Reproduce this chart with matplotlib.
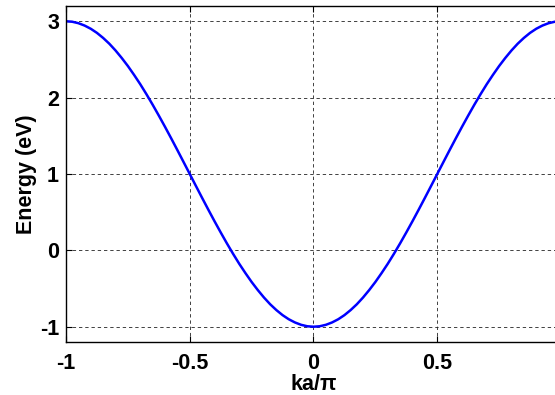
import numpy as np
import matplotlib.pyplot as plt

plt.rcParams['font.family'] = ['Liberation Sans', 'DejaVu Sans']
plt.rcParams['font.weight'] = 'bold'

# ka/pi sample points and energies
ka = [-1.0, -0.975, -0.95, -0.925, -0.9, -0.875, -0.85, -0.825, -0.8, -0.775,
      -0.75, -0.725, -0.7, -0.675, -0.65, -0.625, -0.6, -0.575, -0.55, -0.525,
      -0.5, -0.475, -0.45, -0.425, -0.4, -0.375, -0.35, -0.325, -0.3, -0.275,
      -0.25, -0.225, -0.2, -0.175, -0.15, -0.125, -0.1, -0.075, -0.05, -0.025,
      0.0, 0.025, 0.05, 0.075, 0.1, 0.125, 0.15, 0.175, 0.2, 0.225,
      0.25, 0.275, 0.3, 0.325, 0.35, 0.375, 0.4, 0.425, 0.45, 0.475,
      0.5, 0.525, 0.55, 0.575, 0.6, 0.625, 0.65, 0.675, 0.7, 0.725,
      0.75, 0.775, 0.8, 0.825, 0.85, 0.875, 0.9, 0.925, 0.95, 0.975, 1.0]
energy = [3.0, 2.994, 2.975, 2.944, 2.902, 2.848, 2.782, 2.706, 2.618, 2.520,
          2.414, 2.298, 2.176, 2.045, 1.908, 1.765, 1.618, 1.467, 1.313, 1.157,
          1.0, 0.843, 0.687, 0.533, 0.382, 0.235, 0.092, -0.045, -0.176, -0.298,
          -0.414, -0.520, -0.618, -0.706, -0.782, -0.848, -0.902, -0.944, -0.975, -0.994,
          -1.0, -0.994, -0.975, -0.944, -0.902, -0.848, -0.782, -0.706, -0.618, -0.520,
          -0.414, -0.298, -0.176, -0.045, 0.092, 0.235, 0.382, 0.533, 0.687, 0.843,
          1.0, 1.157, 1.313, 1.467, 1.618, 1.765, 1.908, 2.045, 2.176, 2.298,
          2.414, 2.520, 2.618, 2.706, 2.782, 2.848, 2.902, 2.944, 2.975, 2.994, 3.0]

xticks = [-1, -0.5, 0, 0.5, 1]
xticklabels = ['-1', '-0.5', '0', '0.5', '1']
yticks = [-1, 0, 1, 2, 3]
yticklabels = ['-1', '0', '1', '2', '3']

W, H = 555, 395
fig = plt.figure(figsize=(W / 100, H / 100), dpi=100)
ax = fig.add_axes([66 / W, 1 - 342 / H, (561 - 66) / W, (342 - 6) / H])

ax.plot(ka, energy, color='#0000ff', lw=1.8)

ax.set_xlim(-1, 1)
ax.set_ylim(-1.2, 3.2)
ax.set_xticks(xticks)
ax.set_xticklabels(xticklabels)
ax.set_yticks(yticks)
ax.set_yticklabels(yticklabels)
ax.grid(True, color='#222222', linestyle=(0, (4, 3.5)), linewidth=0.6)
ax.tick_params(direction='in', length=4, width=0.8, labelsize=15.5,
               top=True, right=True)
ax.tick_params(axis='x', pad=8)
ax.tick_params(axis='y', pad=5)
for s in ax.spines.values():
    s.set_linewidth(1.0)

ax.set_xlabel('ka/π', fontsize=15.5, fontweight='bold', labelpad=0)
ax.set_ylabel('Energy (eV)', fontsize=15.5, fontweight='bold', labelpad=2)

fig.savefig('out.png', dpi=100)
